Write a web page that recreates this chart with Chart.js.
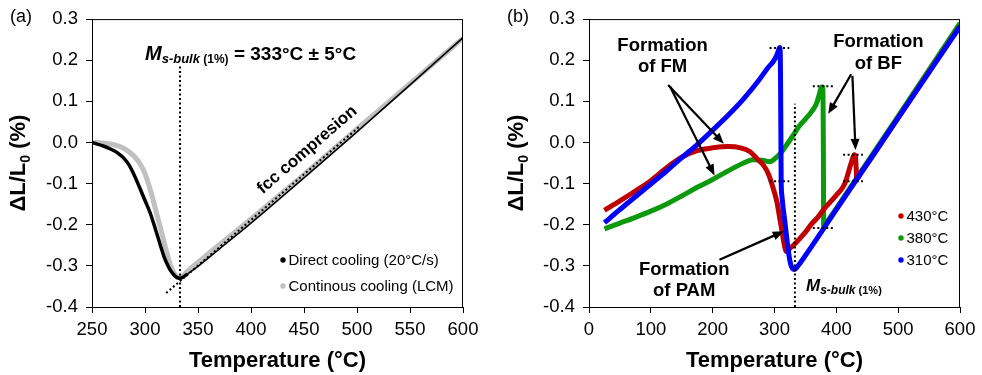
<!DOCTYPE html>
<html>
<head>
<meta charset="utf-8">
<script src="https://cdn.jsdelivr.net/npm/chart.js@4.4.0/dist/chart.umd.min.js"></script>
<style>
  html, body { margin: 0; padding: 0; background: #fff; }
  #wrap { position: relative; width: 982px; height: 375px; }
  .panel { position: absolute; top: 0; height: 375px; }
  #panelA { left: 0; width: 490px; }
  #panelB { left: 490px; width: 492px; }
</style>
</head>
<body>
<div id="wrap">
  <div class="panel" id="panelA"><canvas id="chartA" width="490" height="375"></canvas></div>
  <div class="panel" id="panelB"><canvas id="chartB" width="492" height="375"></canvas></div>
</div>
<script>
const FONT = '"Liberation Sans", Arial, Helvetica, sans-serif';

// ---- (a) direct cooling vs. continuous cooling, 250-600 °C ----
const directTemp = [250, 255, 260, 265, 270, 275, 280, 285, 290, 295, 300, 305, 310, 315, 318, 321, 324, 327, 330, 333, 336, 340, 350, 370, 400, 450, 500, 550, 600];
const directDL = [0.000, -0.004, -0.008, -0.013, -0.019, -0.027, -0.038, -0.055, -0.080, -0.110, -0.141, -0.172, -0.212, -0.254, -0.278, -0.296, -0.311, -0.321, -0.328, -0.330, -0.327, -0.320, -0.301, -0.259, -0.196, -0.086, 0.026, 0.140, 0.255];

const lcmTemp = [250, 260, 270, 280, 286, 292, 296, 300, 305, 310, 315, 320, 324, 328, 331, 334, 338, 345, 360, 400, 450, 500, 550, 600];
const lcmDL = [0.000, -0.001, -0.005, -0.014, -0.025, -0.040, -0.055, -0.076, -0.115, -0.163, -0.212, -0.262, -0.298, -0.320, -0.328, -0.328, -0.318, -0.302, -0.270, -0.186, -0.078, 0.033, 0.143, 0.254];

// tangent to the fcc contraction
const fccTemp = [320, 502];
const fccDL = [-0.366, 0.038];

const msBulk = 333;
const msTopA = 0.185;
const msTopB = 0.094;

// ---- (b) isothermal holds at 430 / 380 / 310 °C ----
const t430Temp = [25, 50, 75, 100, 125, 150, 175, 200, 225, 245, 260, 272, 282, 290, 298, 304, 308, 312, 316, 319, 322, 326, 332, 340, 350, 360, 370, 380, 390, 400, 410, 415, 420, 425, 429, 431, 432, 433, 440, 500, 600];
const t430DL = [-0.165, -0.142, -0.118, -0.093, -0.062, -0.036, -0.020, -0.013, -0.010, -0.013, -0.022, -0.040, -0.055, -0.076, -0.112, -0.145, -0.180, -0.215, -0.250, -0.265, -0.262, -0.256, -0.248, -0.235, -0.218, -0.198, -0.182, -0.162, -0.145, -0.128, -0.110, -0.095, -0.070, -0.045, -0.030, -0.035, -0.060, -0.088, -0.074, 0.060, 0.283];

const t380Temp = [25, 50, 75, 100, 125, 150, 175, 200, 225, 250, 265, 280, 292, 300, 310, 320, 330, 340, 350, 360, 368, 373, 376, 378, 379, 379.5, 385, 400, 430, 500, 600];
const t380DL = [-0.210, -0.196, -0.182, -0.167, -0.150, -0.130, -0.109, -0.090, -0.069, -0.050, -0.042, -0.043, -0.047, -0.040, -0.026, -0.005, 0.017, 0.040, 0.057, 0.075, 0.095, 0.120, 0.135, 0.135, 0.000, -0.205, -0.193, -0.160, -0.093, 0.064, 0.290];

const t310Temp = [25, 50, 75, 100, 125, 150, 175, 200, 225, 250, 275, 290, 298, 303, 306, 308.5, 309.5, 310, 310.4, 310.8, 312, 314, 317, 320, 323, 326, 329, 332, 336, 340, 400, 500, 600];
const t310DL = [-0.195, -0.163, -0.132, -0.101, -0.070, -0.037, -0.005, 0.030, 0.066, 0.106, 0.152, 0.183, 0.197, 0.210, 0.222, 0.231, 0.200, 0.100, 0.000, -0.094, -0.130, -0.160, -0.195, -0.235, -0.270, -0.295, -0.306, -0.309, -0.304, -0.296, -0.163, 0.060, 0.282];

// dotted level marks at the start / end of each transformation step
const stepFrom = [292, 292, 362, 362, 411, 411];
const stepTo = [324, 324, 395, 395, 443, 443];
const stepLevel = [0.230, -0.094, 0.137, -0.208, -0.030, -0.094];

const tempTicksA = [250, 300, 350, 400, 450, 500, 550, 600];
const tempTicksB = [0, 100, 200, 300, 400, 500, 600];
const dlTicks = [-0.4, -0.3, -0.2, -0.1, 0.0, 0.1, 0.2, 0.3];

const pts = (xs, ys) => xs.map((x, i) => ({ x: x, y: ys[i] }));

function dotted(data) {
  return {
    data: data, borderColor: '#000', borderWidth: 2, borderDash: [2, 2.5],
    pointRadius: 0, cubicInterpolationMode: 'default', tension: 0
  };
}

function richText(ctx, parts, x, y, align) {
  let w = 0;
  parts.forEach(p => { ctx.font = p.font; p.w = ctx.measureText(p.t).width; w += p.w; });
  let cx = align === 'center' ? x - w / 2 : x;
  ctx.textAlign = 'left';
  ctx.textBaseline = 'alphabetic';
  parts.forEach(p => { ctx.font = p.font; ctx.fillText(p.t, cx, y + (p.dy || 0)); cx += p.w; });
}

function arrow(ctx, x0, y0, x1, y1) {
  const a = Math.atan2(y1 - y0, x1 - x0);
  const hl = 11, hw = 4.5;
  const c = Math.cos(a), s = Math.sin(a);
  ctx.beginPath();
  ctx.moveTo(x0, y0);
  ctx.lineTo(x1 - hl * 0.8 * c, y1 - hl * 0.8 * s);
  ctx.stroke();
  ctx.beginPath();
  ctx.moveTo(x1, y1);
  ctx.lineTo(x1 - hl * c + hw * s, y1 - hl * s - hw * c);
  ctx.lineTo(x1 - hl * c - hw * s, y1 - hl * s + hw * c);
  ctx.closePath();
  ctx.fill();
}

// frame, axis titles, panel letter, notes and legend
function decor(cfg) {
  return {
    id: 'decor',
    afterDraw(chart) {
      const ctx = chart.ctx;
      const area = chart.chartArea;
      const sx = chart.scales.x, sy = chart.scales.y;
      const P = (x, y) => [sx.getPixelForValue(x), sy.getPixelForValue(y)];
      ctx.save();
      ctx.fillStyle = '#000';
      ctx.strokeStyle = '#000';

      ctx.lineWidth = 1;
      ctx.strokeRect(area.left + 0.5, area.top + 0.5, area.right - area.left - 1, area.bottom - area.top);

      ctx.font = '18px ' + FONT;
      ctx.textAlign = 'left';
      ctx.textBaseline = 'alphabetic';
      ctx.fillText(cfg.letter, cfg.letterX, 22);

      // y title with subscript
      ctx.save();
      ctx.translate(cfg.yTitleX, (area.top + area.bottom) / 2);
      ctx.rotate(-Math.PI / 2);
      richText(ctx, [
        { t: 'ΔL/L', font: 'bold 22px ' + FONT },
        { t: '0', font: 'bold 14px ' + FONT, dy: 5 },
        { t: ' (%)', font: 'bold 22px ' + FONT }
      ], 0, 0, 'center');
      ctx.restore();

      ctx.font = 'bold 22px ' + FONT;
      ctx.textAlign = 'center';
      ctx.fillText('Temperature (°C)', (area.left + area.right) / 2, 367);

      cfg.draw(ctx, chart, P, area);

      // legend from the datasets that carry a label
      ctx.font = cfg.legendFont + 'px ' + FONT;
      ctx.textAlign = 'left';
      ctx.textBaseline = 'middle';
      const items = chart.data.datasets.filter(d => d.label);
      cfg.legendOrder(items).forEach((d, i) => {
        const mx = area.right - cfg.legendRight;
        const my = area.bottom - cfg.legendBottom + i * cfg.legendStep;
        ctx.fillStyle = d.borderColor;
        ctx.beginPath();
        ctx.arc(mx, my, 2.7, 0, Math.PI * 2);
        ctx.fill();
        ctx.fillStyle = '#000';
        ctx.fillText(d.label, mx + 5.5, my + 0.5);
      });
      ctx.restore();
    }
  };
}

function options(xMin, xMax, xTicks, yWidth, padRight) {
  const tickFont = { family: FONT, size: 18.5 };
  return {
    responsive: false,
    animation: false,
    layout: { padding: { top: 16, right: padRight, bottom: 0, left: 0 } },
    plugins: { legend: { display: false }, tooltip: { enabled: false } },
    elements: { point: { radius: 0 }, line: { cubicInterpolationMode: 'monotone' } },
    scales: {
      x: {
        type: 'linear', min: xMin, max: xMax,
        afterBuildTicks: s => { s.ticks = xTicks.map(v => ({ value: v })); },
        afterFit: s => { s.height = 68; },
        grid: { drawOnChartArea: false, color: '#000', tickLength: 6 },
        border: { color: '#000', width: 1 },
        ticks: { color: '#000', padding: 6, maxRotation: 0, font: tickFont }
      },
      y: {
        type: 'linear', min: -0.4, max: 0.3,
        afterBuildTicks: s => { s.ticks = dlTicks.map(v => ({ value: v })); },
        afterFit: s => { s.width = yWidth; },
        grid: { drawOnChartArea: false, color: '#000', tickLength: 6 },
        border: { color: '#000', width: 1 },
        ticks: { color: '#000', padding: 8, font: tickFont, callback: v => (Math.abs(v) < 1e-9 ? 0 : v).toFixed(1) }
      }
    }
  };
}

// ---------- panel (a) ----------
new Chart(document.getElementById('chartA'), {
  type: 'line',
  data: {
    datasets: [
      dotted(pts(fccTemp, fccDL)),
      dotted([{ x: msBulk, y: -0.4 }, { x: msBulk, y: msTopA }]),
      {
        label: 'Direct cooling (20°C/s)', data: pts(directTemp, directDL),
        borderColor: '#000', borderWidth: 3.5,
        segment: { borderWidth: c => (c.p0.parsed.x >= 340 ? 1.6 : 3.5) }
      },
      { label: 'Continous cooling (LCM)', data: pts(lcmTemp, lcmDL), borderColor: '#c0c0c0', borderWidth: 5 }
    ]
  },
  options: options(250, 600, tempTicksA, 92, 27),
  plugins: [decor({
    letter: '(a)', letterX: 10, yTitleX: 25,
    legendFont: 15, legendRight: 180, legendBottom: 47, legendStep: 26,
    legendOrder: items => items,
    draw(ctx, chart, P) {
      const [lx, ly] = P(300, 0.2);
      richText(ctx, [
        { t: 'M', font: 'italic bold 20px ' + FONT },
        { t: 's-bulk', font: 'italic bold 13px ' + FONT, dy: 3 },
        { t: ' (1%)', font: 'bold 12px ' + FONT, dy: 3 },
        { t: ' = ' + msBulk + '°C ± 5°C', font: 'bold 19px ' + FONT }
      ], lx, ly, 'left');

      const [ax, ay] = P(fccTemp[0], fccDL[0]);
      const [bx, by] = P(fccTemp[1], fccDL[1]);
      const [tx, ty] = P(453, -0.018);
      ctx.save();
      ctx.translate(tx, ty);
      ctx.rotate(Math.atan2(by - ay, bx - ax));
      ctx.font = 'bold 17px ' + FONT;
      ctx.textAlign = 'center';
      ctx.textBaseline = 'middle';
      ctx.fillText('fcc compresion', 0, 0);
      ctx.restore();
    }
  })]
});

// ---------- panel (b) ----------
const stepSets = stepLevel.map((y, i) => dotted([{ x: stepFrom[i], y: y }, { x: stepTo[i], y: y }]));

new Chart(document.getElementById('chartB'), {
  type: 'line',
  data: {
    datasets: [
      ...stepSets,
      dotted([{ x: msBulk, y: -0.4 }, { x: msBulk, y: msTopB }]),
      { label: '310°C', data: pts(t310Temp, t310DL), borderColor: '#0000ff', borderWidth: 5 },
      { label: '430°C', data: pts(t430Temp, t430DL), borderColor: '#c00000', borderWidth: 5 },
      { label: '380°C', data: pts(t380Temp, t380DL), borderColor: '#0c9a0c', borderWidth: 5 }
    ]
  },
  options: options(0, 600, tempTicksB, 99, 22),
  plugins: [decor({
    letter: '(b)', letterX: 17, yTitleX: 33,
    legendFont: 15, legendRight: 59, legendBottom: 91, legendStep: 22,
    legendOrder: items => [items[1], items[2], items[0]],
    draw(ctx, chart, P) {
      const bold = 'bold 18.5px ' + FONT;
      const note = (lines, x, ys) => {
        ctx.font = bold;
        ctx.textAlign = 'center';
        ctx.textBaseline = 'middle';
        lines.forEach((t, i) => { const [px, py] = P(x, ys[i]); ctx.fillText(t, px, py); });
      };
      note(['Formation', 'of FM'], 119, [0.235, 0.184]);
      note(['Formation', 'of BF'], 468, [0.244, 0.192]);
      note(['Formation', 'of PAM'], 154, [-0.309, -0.360]);

      ctx.lineWidth = 2.2;
      const arr = (x0, y0, x1, y1) => { const [a, b] = P(x0, y0); const [c, d] = P(x1, y1); arrow(ctx, a, b, c, d); };
      arr(128, 0.140, 218, -0.003);
      arr(131, 0.136, 203, -0.080);
      arr(424, 0.166, 387, 0.070);
      arr(426, 0.162, 431, -0.018);
      arr(211, -0.285, 315, -0.216);

      const [lx, ly] = P(351, -0.362);
      richText(ctx, [
        { t: 'M', font: 'italic bold 17px ' + FONT },
        { t: 's-bulk', font: 'italic bold 12px ' + FONT, dy: 3 },
        { t: ' (1%)', font: 'bold 11px ' + FONT, dy: 3 }
      ], lx, ly, 'left');
    }
  })]
});
</script>
</body>
</html>
